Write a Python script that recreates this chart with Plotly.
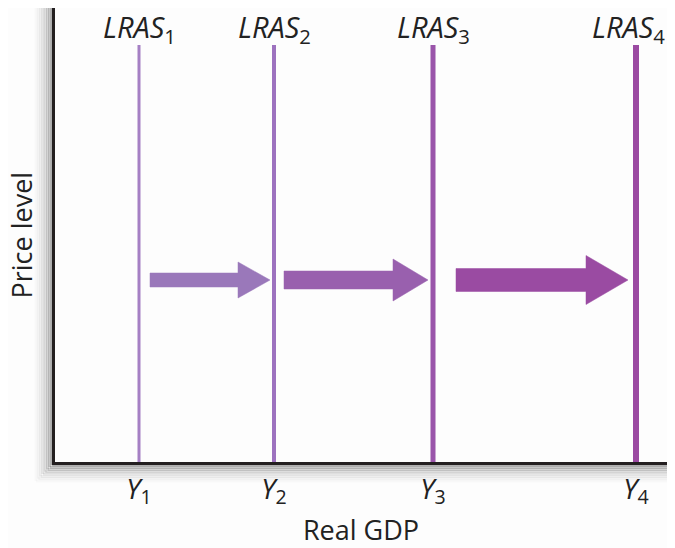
import plotly.graph_objects as go

# LRAS curve positions (pixel-like data units along Real GDP)
lras_labels = ['1', '2', '3', '4']
lras_x = [84, 219, 378, 581]
lras_colors = ['#a580c4', '#9d72bf', '#9a55aa', '#9b4aa2']
lras_widths = [3, 4, 5, 6]

# growth arrows between the curves: start, end, head start, shaft half-height, head half-height
arrow_x0 = [95, 229, 401]
arrow_x1 = [215, 373, 573]
arrow_head = [183, 338, 531]
arrow_shaft = [7, 9, 11.5]
arrow_half = [18, 21, 24.5]
arrow_colors = ['#9a78ba', '#9960ae', '#9a4ba2']
arrow_y = 182

W, H = 612, 454  # plot area size in px

fig = go.Figure()

# soft shadow under the frame (paper coords so it is not clipped)
for i, op in enumerate([0.02, 0.04, 0.06, 0.09, 0.12, 0.16, 0.21, 0.27]):
    off = 19 - i * 2.3
    fig.add_shape(type='line', xref='paper', yref='paper',
                  x0=-off / W, x1=-off / W, y0=-off / H, y1=1,
                  line=dict(color='rgba(0,0,0,%s)' % op, width=3), layer='below')
    fig.add_shape(type='line', xref='paper', yref='paper',
                  x0=-off / W, x1=1, y0=-off / H, y1=-off / H,
                  line=dict(color='rgba(0,0,0,%s)' % op, width=3), layer='below')

for x, c, w in zip(lras_x, lras_colors, lras_widths):
    fig.add_trace(go.Scatter(x=[x, x], y=[0, 417], mode='lines',
                             line=dict(color=c, width=w), hoverinfo='skip'))

for x0, x1, hx, s, h, c in zip(arrow_x0, arrow_x1, arrow_head, arrow_shaft, arrow_half, arrow_colors):
    xs = [x0, hx, hx, x1, hx, hx, x0, x0]
    ys = [arrow_y + s, arrow_y + s, arrow_y + h, arrow_y, arrow_y - h, arrow_y - s, arrow_y - s, arrow_y + s]
    fig.add_trace(go.Scatter(x=xs, y=ys, mode='lines', fill='toself', fillcolor=c,
                             line=dict(color=c, width=0.5), hoverinfo='skip'))

for x, lab in zip(lras_x, lras_labels):
    if lab == '4':
        # keep the last label inside the right edge
        fig.add_annotation(x=1, xref='paper', y=434, text='<i>LRAS</i><sub>%s</sub>' % lab,
                           showarrow=False, font=dict(size=29, color='#222'),
                           xanchor='right', yanchor='middle')
    else:
        fig.add_annotation(x=x, y=434, text='<i>LRAS</i><sub>%s</sub>' % lab, showarrow=False,
                           font=dict(size=29, color='#222'), xanchor='center', yanchor='middle')

# y axis title as a rotated annotation so it can sit near the left edge
fig.add_annotation(x=0, xref='paper', y=0.5, yref='paper', text='Price level', textangle=-90,
                   showarrow=False, font=dict(size=27, color='#222'),
                   xanchor='right', yanchor='middle', xshift=-14)

fig.update_xaxes(range=[0, W], showgrid=False, zeroline=False, automargin=False,
                 tickvals=lras_x, ticktext=['<i>Y</i><sub>%s</sub>' % l for l in lras_labels],
                 ticks='', tickfont=dict(size=28, color='#222'),
                 showline=True, linecolor='#231f20', linewidth=3,
                 title=dict(text='Real GDP', font=dict(size=27, color='#222'), standoff=12))
fig.update_yaxes(range=[0, H], showgrid=False, zeroline=False, showticklabels=False,
                 automargin=False,
                 showline=True, linecolor='#231f20', linewidth=3)

# the page body adds an 8px margin, so the figure is sized to fit inside it
fig.update_layout(width=659, height=540, showlegend=False,
                  margin=dict(l=47, r=0, t=0, b=86),
                  paper_bgcolor='#fdfdfd', plot_bgcolor='#fdfdfd',
                  font=dict(family='Open Sans, sans-serif'))

fig.write_html("out.html")
